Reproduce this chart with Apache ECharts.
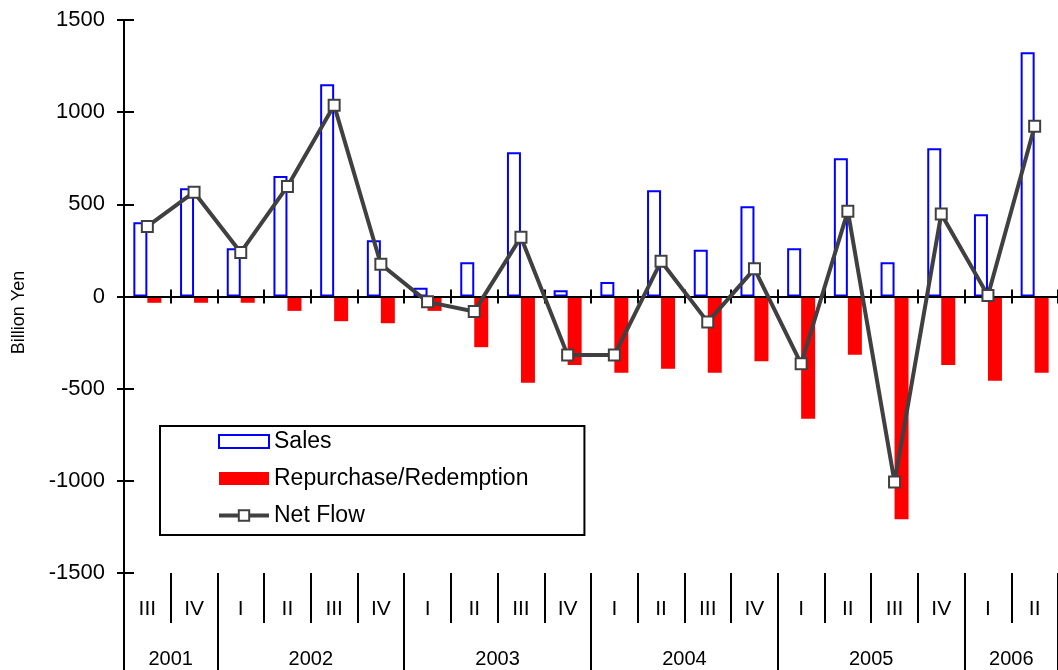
<!DOCTYPE html>
<html>
<head>
<meta charset="utf-8">
<script src="https://cdn.jsdelivr.net/npm/echarts@6/dist/echarts.min.js"></script>
<style>
  html, body { margin: 0; padding: 0; background: #fff; }
  #chart { width: 1058px; height: 670px; }
</style>
</head>
<body>
<div id="chart"></div>
<script>
// Quarterly fund flows, billion yen
const quarters = ['III', 'IV', 'I', 'II', 'III', 'IV', 'I', 'II', 'III', 'IV',
                  'I', 'II', 'III', 'IV', 'I', 'II', 'III', 'IV', 'I', 'II'];
const years = ['2001', '2002', '2003', '2004', '2005', '2006'];
const quartersPerYear = [2, 4, 4, 4, 4, 2];

const sales = [403, 587, 262, 654, 1151, 305, 47, 186, 783, 34,
               78, 577, 253, 490, 262, 750, 186, 804, 446, 1325];
const repurchase = [-34, -34, -34, -78, -134, -145, -78, -275, -468, -371,
                    -414, -392, -414, -351, -663, -316, -1208, -371, -457, -414];
const netFlow = [380, 566, 239, 597, 1037, 175, -29, -81, 322, -318,
                 -318, 191, -139, 150, -365, 463, -1007, 448, 5, 924];

const yMin = -1500, yMax = 1500, yStep = 500;

// Year group edges and centres, measured in quarter slots
const yearEdges = [0];
quartersPerYear.forEach(n => yearEdges.push(yearEdges[yearEdges.length - 1] + n));
const yearCenters = years.map((_, i) => (yearEdges[i] + yearEdges[i + 1]) / 2);
const yearByCenter = {};
yearCenters.forEach((c, i) => { yearByCenter[c] = years[i]; });

const FONT = "'Liberation Sans', Arial, sans-serif";
const black = '#000';
const lineGrey = '#404040';

const chart = echarts.init(document.getElementById('chart'), null, { renderer: 'canvas' });

const option = {
  animation: false,
  backgroundColor: '#fff',
  textStyle: { fontFamily: FONT, color: black },
  grid: { left: 124, top: 20, width: 936, bottom: 97, containLabel: false },
  legend: {
    orient: 'vertical',
    left: 160,
    top: 426,
    padding: [3, 56, 7, 57],
    borderColor: black,
    borderWidth: 2,
    itemWidth: 50,
    itemHeight: 13,
    itemGap: 12,
    selectedMode: false,
    itemStyle: { borderWidth: 2 },
    lineStyle: { width: 4 },
    textStyle: { fontFamily: FONT, fontSize: 23, color: black, lineHeight: 25 },
    data: [
      { name: 'Sales', icon: 'rect' },
      { name: 'Repurchase/Redemption', icon: 'rect' },
      { name: 'Net Flow' }
    ]
  },
  xAxis: [
    { // zero line with downward ticks
      type: 'category', data: quarters, position: 'bottom', z: 3,
      axisLine: { onZero: true, onZeroAxisIndex: 0, lineStyle: { color: black, width: 2 } },
      axisTick: { show: true, interval: 0, length: 7, lineStyle: { color: black, width: 2 } },
      axisLabel: { show: false }, splitLine: { show: false }
    },
    { // zero line with upward ticks
      type: 'category', data: quarters, position: 'top', z: 3,
      axisLine: { onZero: true, onZeroAxisIndex: 0, lineStyle: { color: black, width: 2 } },
      axisTick: { show: true, interval: 0, length: 7, lineStyle: { color: black, width: 2 } },
      axisLabel: { show: false }, splitLine: { show: false }
    },
    { // quarter labels and separators
      type: 'category', data: quarters, position: 'bottom',
      axisLine: { show: false, onZero: false },
      axisTick: { show: true, interval: 0, length: 50, lineStyle: { color: black, width: 2 } },
      axisLabel: { show: true, interval: 0, margin: 26, fontFamily: FONT, fontSize: 21, color: black },
      splitLine: { show: false }
    },
    { // year labels and year separators
      type: 'value', position: 'bottom', min: 0, max: quarters.length,
      axisLine: { show: false, onZero: false },
      axisTick: { show: true, customValues: yearEdges, length: 100, lineStyle: { color: black, width: 2 } },
      axisLabel: {
        show: true, customValues: yearCenters, margin: 76,
        fontFamily: FONT, fontSize: 20, color: black,
        formatter: v => yearByCenter[v] || ''
      },
      splitLine: { show: false }
    }
  ],
  yAxis: [
    {
      type: 'value', min: yMin, max: yMax, interval: yStep, position: 'left',
      name: 'Billion Yen', nameLocation: 'middle', nameGap: 96, nameRotate: 90,
      nameTextStyle: { fontFamily: FONT, fontSize: 18, color: black, padding: [0, 32, 0, 0] },
      axisLine: { show: true, onZero: false, lineStyle: { color: black, width: 2 } },
      axisTick: { show: true, length: 7, lineStyle: { color: black, width: 2 } },
      axisLabel: {
        margin: 19, fontFamily: FONT, fontSize: 22, color: black,
        formatter: v => String(v)
      },
      splitLine: { show: false }
    },
    {
      type: 'value', min: yMin, max: yMax, interval: yStep, position: 'left',
      axisLine: { show: false, onZero: false },
      axisTick: { show: true, inside: true, length: 10, lineStyle: { color: black, width: 2 } },
      axisLabel: { show: false },
      splitLine: { show: false }
    }
  ],
  series: [
    {
      name: 'Sales', type: 'bar', xAxisIndex: 0, yAxisIndex: 0,
      data: sales, barWidth: 14, barGap: '0%', z: 2,
      itemStyle: { color: '#ffffff', borderColor: '#0000ff', borderWidth: 2 }
    },
    {
      name: 'Repurchase/Redemption', type: 'bar', xAxisIndex: 0, yAxisIndex: 0,
      data: repurchase, barWidth: 14, barGap: '0%', z: 2,
      itemStyle: { color: '#ff0000' }
    },
    {
      name: 'Net Flow', type: 'line', xAxisIndex: 0, yAxisIndex: 0,
      data: netFlow, z: 5,
      symbol: 'rect', symbolSize: 11,
      lineStyle: { color: lineGrey, width: 4 },
      itemStyle: { color: '#ffffff', borderColor: lineGrey, borderWidth: 2 }
    }
  ]
};

chart.setOption(option);
</script>
</body>
</html>
